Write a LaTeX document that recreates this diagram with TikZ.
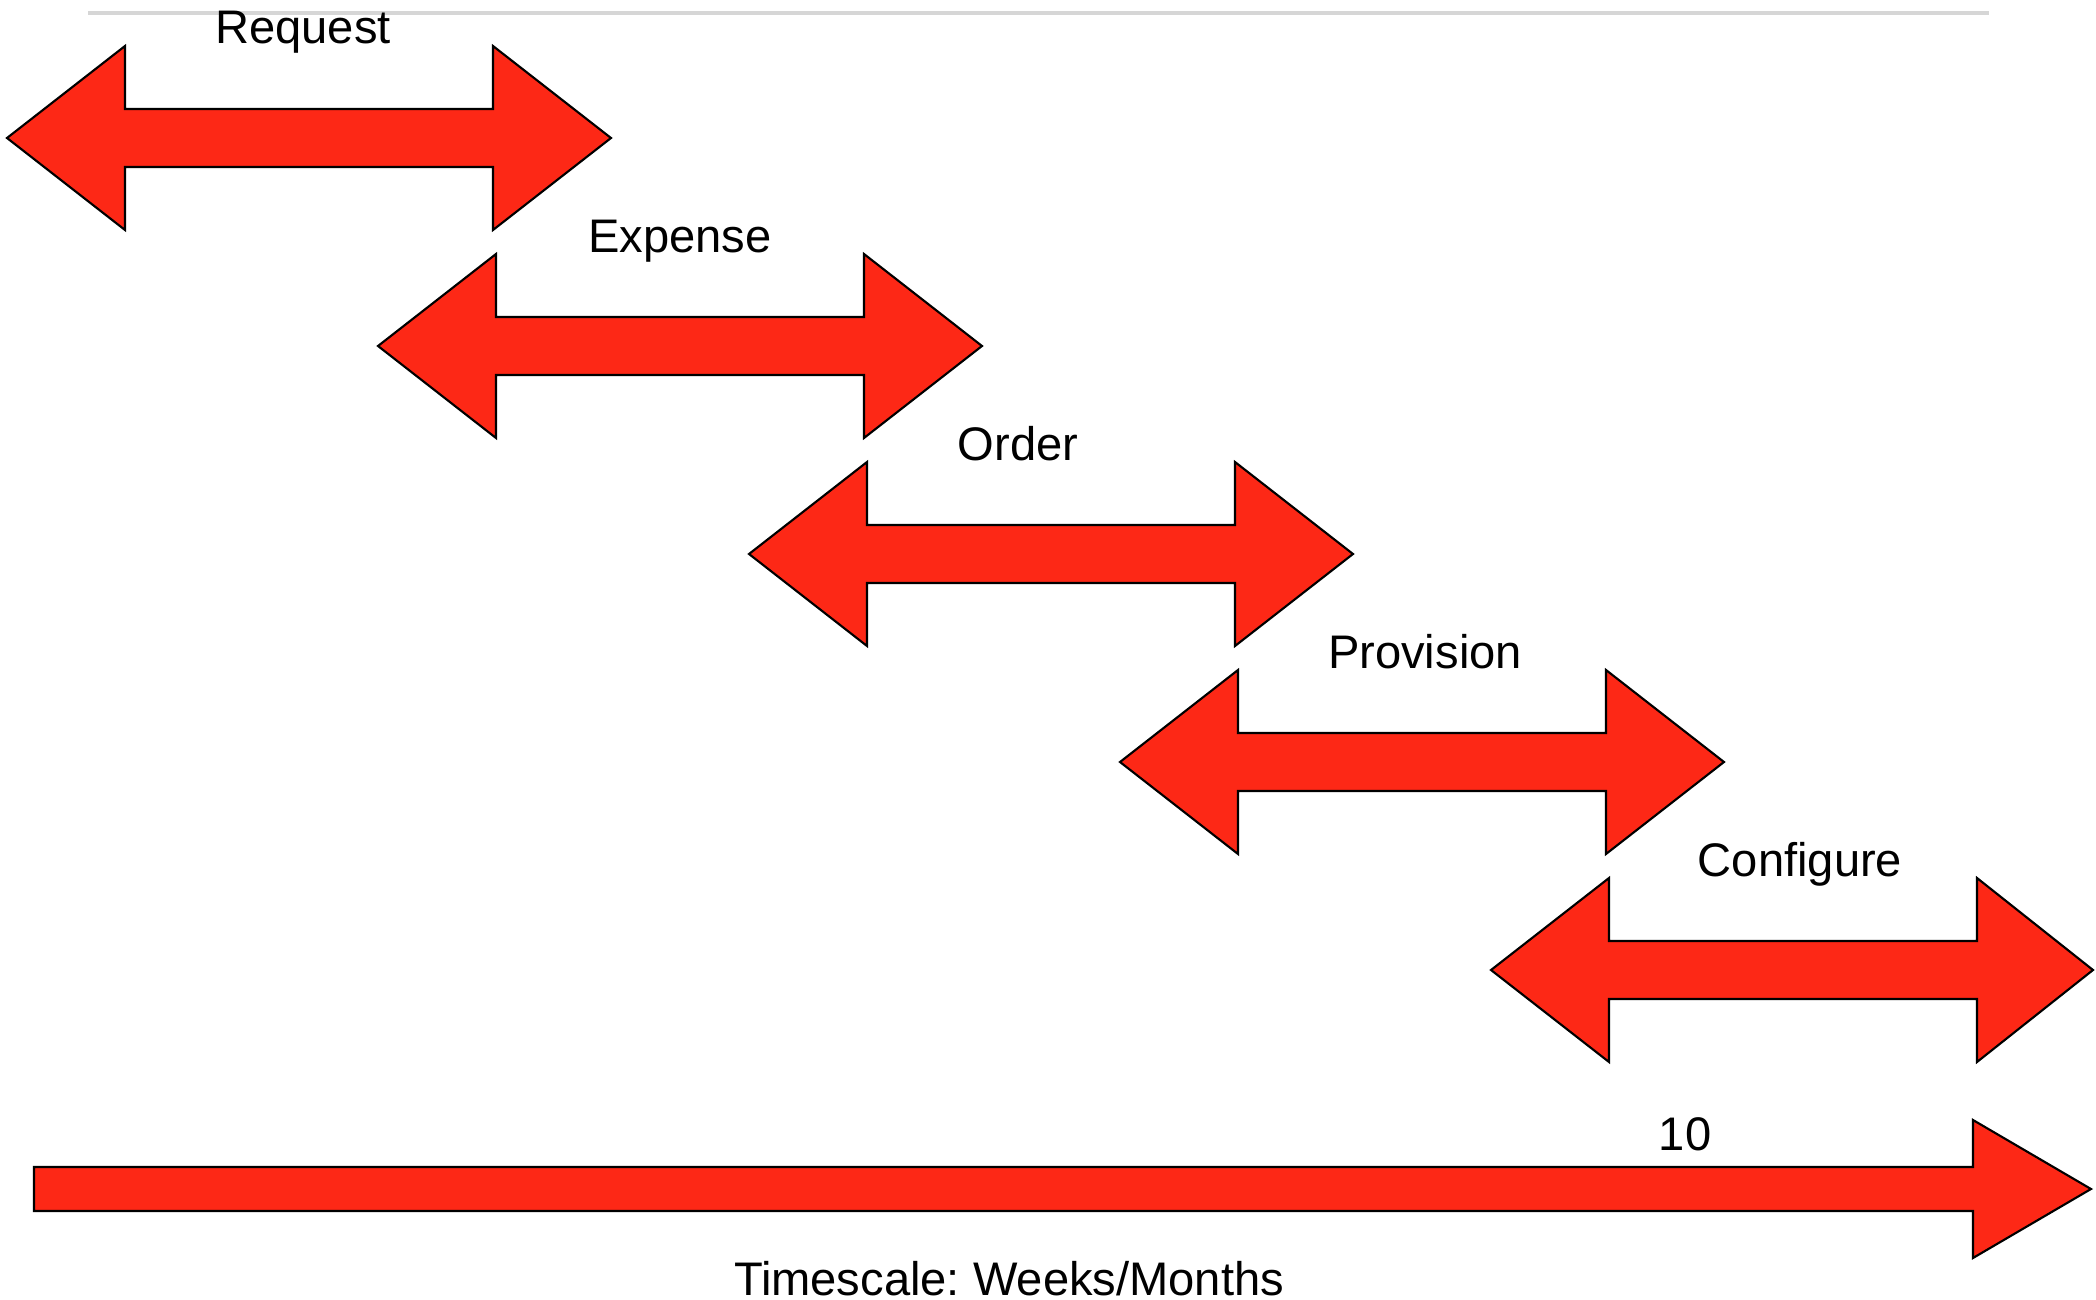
\documentclass[tikz,border=0pt]{standalone}
\usepackage{fontspec}
\setmainfont{Liberation Sans}
\frenchspacing
\definecolor{arrowred}{RGB}{253,40,22}
\definecolor{rulegrey}{RGB}{214,214,214}
\tikzset{
  phase/.style={draw=black, fill=arrowred, line width=0.6pt, line join=miter},
  phaselabel/.style={anchor=base, inner sep=0pt, font=\fontsize{13.4}{16}\selectfont}
}
\begin{document}
\begin{tikzpicture}[x=0.01cm, y=-0.01cm]
\useasboundingbox (0,0) rectangle (2096,1300);
\draw[rulegrey, line width=0.9pt] (88,13) -- (1989,13);

\draw[phase] (7,138) -- (125,46) -- (125,109) -- (493,109) -- (493,46) -- (611,138) -- (493,230) -- (493,167) -- (125,167) -- (125,230) -- cycle;
\draw[phase] (378,346) -- (496,254) -- (496,317) -- (864,317) -- (864,254) -- (982,346) -- (864,438) -- (864,375) -- (496,375) -- (496,438) -- cycle;
\draw[phase] (749,554) -- (867,462) -- (867,525) -- (1235,525) -- (1235,462) -- (1353,554) -- (1235,646) -- (1235,583) -- (867,583) -- (867,646) -- cycle;
\draw[phase] (1120,762) -- (1238,670) -- (1238,733) -- (1606,733) -- (1606,670) -- (1724,762) -- (1606,854) -- (1606,791) -- (1238,791) -- (1238,854) -- cycle;
\draw[phase] (1491,970) -- (1609,878) -- (1609,941) -- (1977,941) -- (1977,878) -- (2093,970) -- (1977,1062) -- (1977,999) -- (1609,999) -- (1609,1062) -- cycle;

\draw[phase] (34,1167) -- (1973,1167) -- (1973,1120) -- (2091,1189) -- (1973,1258) -- (1973,1211) -- (34,1211) -- cycle;

\node[phaselabel] (request) at (303,44) {Request};
\node[phaselabel] (expense) at (680,252) {Expense};
\node[phaselabel] (order) at (1018,460) {Order};
\node[phaselabel] (provision) at (1425,668) {Provision};
\node[phaselabel] (configure) at (1800,876) {Configure};

\node[phaselabel] (ten) at (1685,1150) {10};
\node[phaselabel] (timescale) at (1009,1295) {Timescale: Weeks/Months};
\end{tikzpicture}
\end{document}
